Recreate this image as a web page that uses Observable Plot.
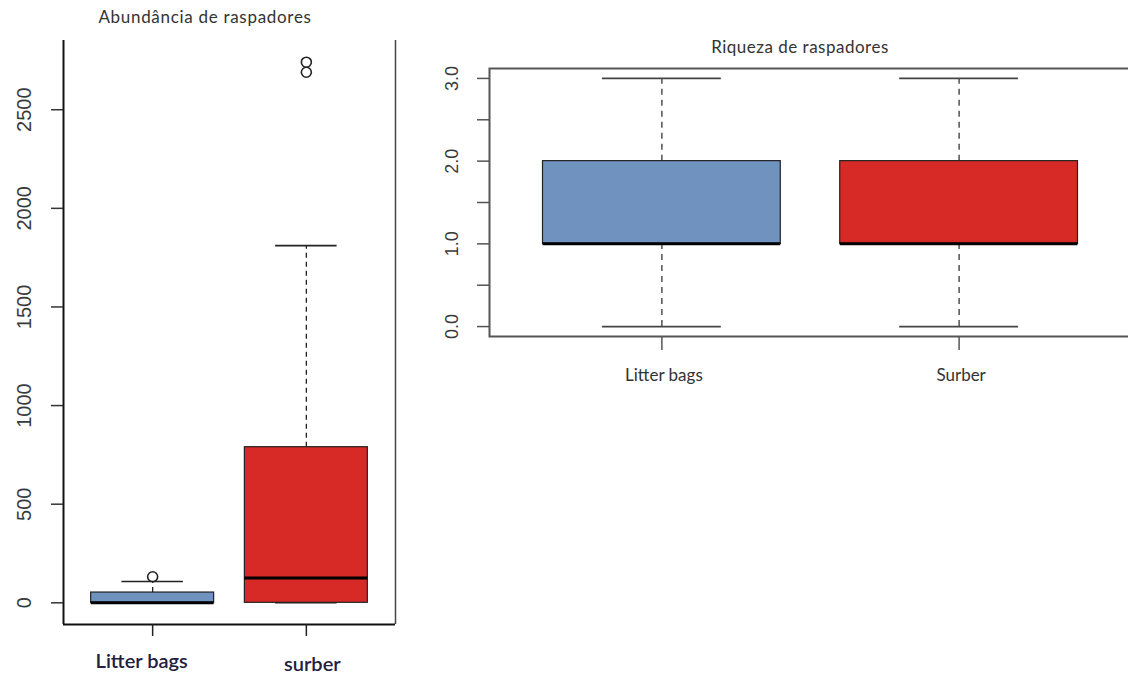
<!DOCTYPE html>
<html>
<head>
<meta charset="utf-8">
<script src="https://cdn.jsdelivr.net/npm/d3@7"></script>
<script src="https://cdn.jsdelivr.net/npm/@observablehq/plot@0.6"></script>
<style>
  html, body { margin: 0; padding: 0; background: #fff; overflow: hidden; }
  #wrap { position: relative; width: 1128px; height: 674px; overflow: hidden; background: #fff; }
  .panel { position: absolute; top: 0; }
  .panel svg { max-width: none !important; }
  .title { position: absolute; font-family: Lato, "Open Sans", sans-serif; color: #333; white-space: nowrap; transform: translateX(-50%); }
</style>
</head>
<body>
<div id="wrap">
  <div id="left" class="panel" style="left:0px; width:410px;"></div>
  <div id="right" class="panel" style="left:430px; width:710px;"></div>
  <div class="title" style="left:205px; top:6px; font-size:17px; letter-spacing:0.7px;">Abundância de raspadores</div>
  <div class="title" style="left:800px; top:36px; font-size:17px; letter-spacing:0.5px;">Riqueza de raspadores</div>
</div>
<script>
// ---- Data: Abundância de raspadores ----
const abundGroups = ["Litter bags", "surber"];
const abundLow  = [0, 0];
const abundQ1   = [0, 0];
const abundMed  = [0, 126];
const abundQ3   = [52, 789];
const abundHigh = [108, 1811];
const abundOutGroup = ["Litter bags", "surber", "surber"];
const abundOutValue = [132, 2690, 2741];
const abundTicks = [0, 500, 1000, 1500, 2000, 2500];

// ---- Data: Riqueza de raspadores ----
const richGroups = ["Litter bags", "Surber"];
const richLow  = [0, 0];
const richQ1   = [1, 1];
const richMed  = [1, 1];
const richQ3   = [2, 2];
const richHigh = [3, 3];
const richTicks = [0, 0.5, 1, 1.5, 2, 2.5, 3];
const richLabels = [0, 1, 2, 3];

const boxColors = ["#6f92bf", "#d72a26"];

function buildBoxes(groups, low, q1, med, q3, high) {
  return groups.map((g, i) => ({group: g, pos: i + 1, low: low[i], q1: q1[i], med: med[i], q3: q3[i], high: high[i], color: boxColors[i]}));
}

const abund = buildBoxes(abundGroups, abundLow, abundQ1, abundMed, abundQ3, abundHigh);
const abundOut = abundOutGroup.map((g, i) => ({pos: abundGroups.indexOf(g) + 1, value: abundOutValue[i]}));
const rich = buildBoxes(richGroups, richLow, richQ1, richMed, richQ3, richHigh);

const xlim = [0.42, 2.58];
const half = 0.4, staple = 0.2;

function boxMarks(data, lineColor, dash, lineW) {
  return [
    Plot.ruleX(data, {x: "pos", y1: "q3", y2: "high", stroke: lineColor, strokeWidth: lineW, strokeDasharray: dash}),
    Plot.ruleX(data, {x: "pos", y1: "low", y2: "q1", stroke: lineColor, strokeWidth: lineW, strokeDasharray: dash}),
    Plot.ruleY(data, {y: "high", x1: d => d.pos - staple, x2: d => d.pos + staple, stroke: lineColor, strokeWidth: lineW + 0.3}),
    Plot.ruleY(data, {y: "low", x1: d => d.pos - staple, x2: d => d.pos + staple, stroke: lineColor, strokeWidth: lineW + 0.3}),
    Plot.rect(data, {x1: d => d.pos - half, x2: d => d.pos + half, y1: "q1", y2: "q3", fill: "color", stroke: "#222", strokeWidth: 1.2}),
    Plot.ruleY(data, {y: "med", x1: d => d.pos - half, x2: d => d.pos + half, stroke: "#000", strokeWidth: 3})
  ];
}

// ---- Left panel ----
const ylimA = [-110, 2851];
const labelFontA = {frameAnchor: "bottom", textAnchor: "middle", lineAnchor: "middle", fontSize: 20, fill: "#22213f", fontWeight: 600, fontFamily: "Lato, sans-serif"};
const left = Plot.plot({
  width: 410, height: 674,
  marginLeft: 63, marginRight: 15, marginTop: 40, marginBottom: 50,
  x: {type: "linear", domain: xlim, axis: null},
  y: {domain: ylimA, axis: null},
  style: {background: "transparent"},
  marks: [
    ...boxMarks(abund, "#222", "5,4", 1.3),
    Plot.dot(abundOut, {x: "pos", y: "value", r: 5, stroke: "#222", strokeWidth: 1.6, fill: "none"}),
    Plot.ruleX([xlim[0]], {stroke: "#111", strokeWidth: 2}),
    Plot.ruleX([xlim[1]], {stroke: "#444", strokeWidth: 1.5}),
    Plot.ruleY([ylimA[0]], {stroke: "#111", strokeWidth: 2}),
    Plot.axisY({ticks: abundTicks, tickSize: 12, tickFormat: () => "", label: null, stroke: "#333", strokeWidth: 1.5}),
    Plot.axisX({ticks: [1, 2], tickSize: 12, tickFormat: () => "", label: null, stroke: "#222", strokeWidth: 1.5}),
    Plot.text(abundTicks, {y: d => d, text: d => String(d), frameAnchor: "left", dx: -39, rotate: -90, textAnchor: "middle", lineAnchor: "middle", fontSize: 20, fill: "#3a3a3a", fontFamily: "Liberation Sans, Arial, sans-serif"}),
    Plot.text(abund.slice(0, 1), {x: "pos", text: "group", dy: 37, dx: -11, ...labelFontA}),
    Plot.text(abund.slice(1, 2), {x: "pos", text: "group", dy: 40, dx: 6, ...labelFontA})
  ]
});
document.getElementById("left").appendChild(left);

// ---- Right panel ----
const ylimR = [-0.12, 3.12];
const right = Plot.plot({
  width: 710, height: 390,
  marginLeft: 59, marginRight: 9, marginTop: 68, marginBottom: 54,
  x: {type: "linear", domain: xlim, axis: null},
  y: {domain: ylimR, axis: null},
  style: {background: "transparent"},
  marks: [
    ...boxMarks(rich, "#444", "6,5", 1.4),
    Plot.frame({stroke: "#555", strokeWidth: 2}),
    Plot.axisY({ticks: richTicks, tickSize: 12, tickFormat: () => "", label: null, stroke: "#555", strokeWidth: 1.5}),
    Plot.axisX({ticks: [1, 2], tickSize: 14, tickFormat: () => "", label: null, stroke: "#555", strokeWidth: 1.5}),
    Plot.text(richLabels, {y: d => d, text: d => d.toFixed(1), frameAnchor: "left", dx: -37, rotate: -90, textAnchor: "middle", lineAnchor: "middle", fontSize: 18, fill: "#3a3a3a", fontFamily: "Liberation Sans, Arial, sans-serif"}),
    Plot.text(rich, {x: "pos", text: "group", frameAnchor: "bottom", dy: 39, dx: 2, textAnchor: "middle", lineAnchor: "middle", fontSize: 17, letterSpacing: 0.6, fill: "#333", fontFamily: "Lato, sans-serif"})
  ]
});
document.getElementById("right").appendChild(right);
</script>
</body>
</html>
